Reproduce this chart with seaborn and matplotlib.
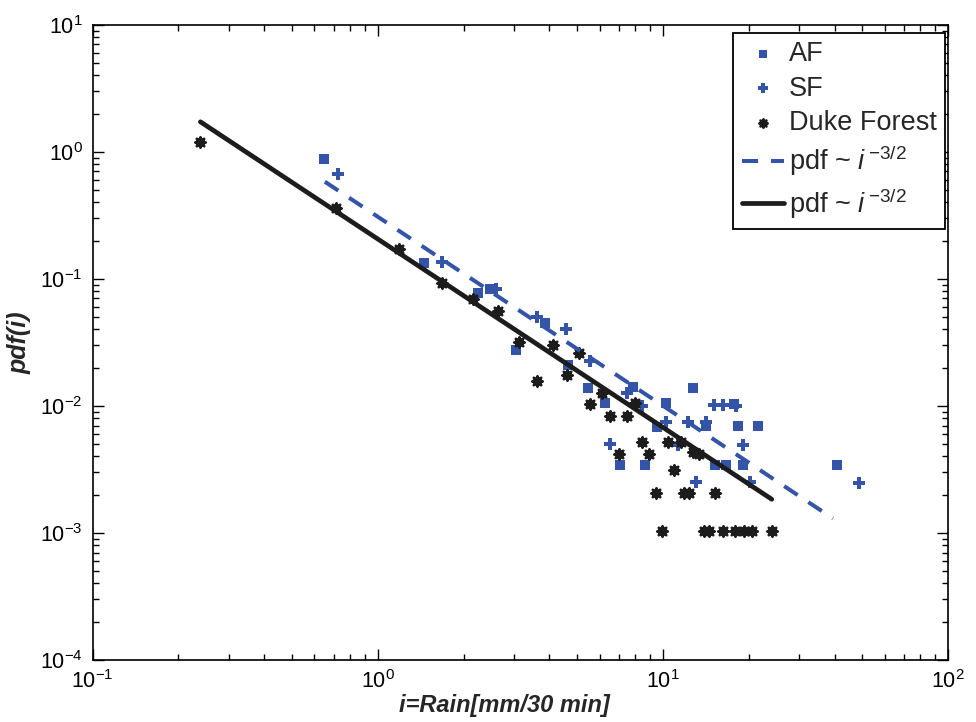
import numpy as np
import pandas as pd
import matplotlib
matplotlib.use("Agg")
import matplotlib.pyplot as plt
import seaborn as sns

# AF (blue squares)
af_x = [0.650, 1.45, 2.25, 2.48, 3.05, 3.86, 4.66, 5.48, 6.27, 7.88, 7.07, 8.65,
        9.51, 10.3, 12.8, 14.2, 15.2, 16.7, 17.7, 18.4, 21.6, 19.1, 40.7]
af_y = [0.871, 0.1336, 0.0767, 0.0825, 0.0275, 0.0446, 0.0209, 0.0137, 0.01045,
        0.0141, 0.00341, 0.00341, 0.00684, 0.01045, 0.0137, 0.0070, 0.00341,
        0.00341, 0.0103, 0.0069, 0.0069, 0.00341, 0.00341]

# SF (blue plus)
sf_x = [0.728, 1.68, 2.61, 3.61, 4.57, 5.55, 7.47, 8.43, 6.52, 10.3, 11.3, 12.3,
        13.1, 14.2, 15.1, 16.2, 18.1, 19.1, 20.2, 48.6]
sf_y = [0.664, 0.136, 0.0825, 0.0502, 0.040, 0.0226, 0.01253, 0.00995, 0.00499,
        0.00749, 0.0049, 0.00749, 0.00252, 0.0075, 0.01014, 0.0101, 0.0099,
        0.0049, 0.00252, 0.00248]

# Duke Forest (black asterisks)
duke_x = [0.239, 0.713, 1.19, 1.68, 2.16, 2.65, 3.13, 3.61, 4.11, 4.60, 5.09, 6.10,
          5.55, 6.52, 7.47, 7.98, 7.03, 8.47, 8.96, 10.4, 11.6, 10.9, 12.8, 13.4,
          9.48, 11.9, 12.4, 15.3,
          9.93, 13.9, 14.5, 16.3, 17.9, 19.3, 20.5, 24.2]
duke_y = [1.19, 0.358, 0.171, 0.0925, 0.0689, 0.056, 0.0319, 0.0157, 0.0301, 0.0175,
          0.0259, 0.01265, 0.0103, 0.00834, 0.00834, 0.01045, 0.00417, 0.00521,
          0.00417, 0.00521, 0.00521, 0.0031, 0.00431, 0.00417,
          0.00206, 0.00206, 0.00206, 0.00206,
          0.00104, 0.00104, 0.00104, 0.00104, 0.00104, 0.00104, 0.00104, 0.00104]

# power-law guide lines (end points)
fit_af_x = [0.653, 39.5]
fit_af_y = [0.581, 0.0013]
fit_duke_x = [0.239, 24.1]
fit_duke_y = [1.72, 0.00184]

blue = "#3454a8"
black = "#1c1c1c"

sns.set_theme(style="ticks")
plt.rcParams["font.family"] = ["Liberation Sans", "DejaVu Sans"]
plt.rcParams["mathtext.fontset"] = "custom"
plt.rcParams["mathtext.rm"] = "Liberation Sans"
plt.rcParams["mathtext.it"] = "Liberation Sans:italic"
plt.rcParams["mathtext.bf"] = "Liberation Sans:bold"

fig = plt.figure(figsize=(9.76, 7.22), dpi=100)
ax = fig.add_axes([0.0948, 0.0859, 0.8765, 0.8799])

sns.scatterplot(x=af_x, y=af_y, marker="s", s=55, color=blue, linewidth=0,
                ax=ax, label="AF", zorder=3)
sns.scatterplot(x=sf_x, y=sf_y, marker="P", s=70, color=blue, linewidth=0,
                ax=ax, label="SF", zorder=3)
sns.scatterplot(x=duke_x, y=duke_y, marker=(8, 1, 0), s=60, color=black,
                edgecolor=black, linewidth=1.8, ax=ax, label="Duke Forest",
                zorder=3)

lab = r"pdf ~ $\mathit{i}^{\,\mathit{-3/2}}$"
sns.lineplot(x=fit_af_x, y=fit_af_y, color=blue, linewidth=2.9,
             linestyle=(0, (4.0, 3.2)), ax=ax, label=lab, sort=False,
             estimator=None, zorder=4)
sns.lineplot(x=fit_duke_x, y=fit_duke_y, color=black, linewidth=3.4,
             ax=ax, label=lab, sort=False, estimator=None, zorder=4)

ax.set_xscale("log")
ax.set_yscale("log")
ax.set_xlim(0.1, 100)
ax.set_ylim(1e-4, 10)

for sp in ax.spines.values():
    sp.set_linewidth(1.2)
    sp.set_color("black")
ax.tick_params(which="both", direction="in", top=True, right=True,
               colors="black", labelsize=15.5, width=1.0)
ax.tick_params(which="major", length=8, pad=7)
ax.tick_params(which="minor", length=4)

ax.set_xlabel("i=Rain[mm/30 min]", fontsize=17, fontweight="bold",
              fontstyle="italic")
ax.xaxis.set_label_coords(0.482, -0.053)
ax.set_ylabel("pdf(i)", fontsize=18, fontweight="bold", fontstyle="italic",
              labelpad=6)

leg = ax.legend(loc="upper right", bbox_to_anchor=(0.9965, 0.9865),
                borderaxespad=0, fontsize=19.5, frameon=True, fancybox=False,
                framealpha=1, edgecolor="black", handlelength=1.55,
                handletextpad=0.2, labelspacing=0.3, borderpad=0.3,
                markerscale=0.8)
leg.get_frame().set_linewidth(1.3)

fig.savefig("out.png", dpi=100)
